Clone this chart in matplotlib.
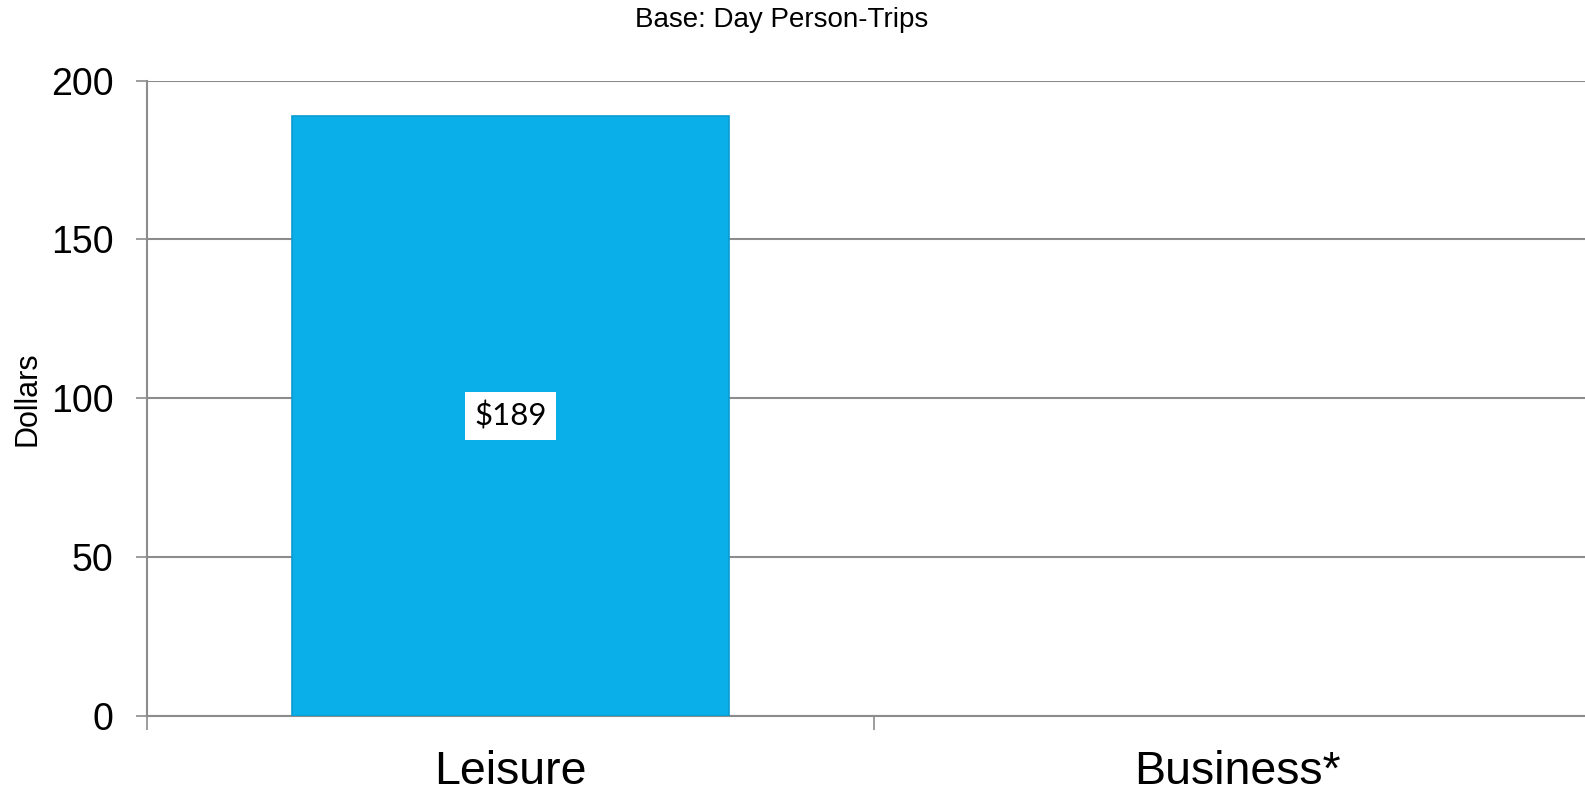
import matplotlib.pyplot as plt
from matplotlib.ticker import FixedLocator

# data
categories = ["Leisure", "Business*"]
spending = [189, None]          # business value not shown
bar_labels = ["$189", ""]
y_ticks = [0, 50, 100, 150, 200]

plt.rcParams['font.family'] = ['Liberation Sans', 'DejaVu Sans']

fig = plt.figure(figsize=(15.85, 7.94), dpi=100)
ax = fig.add_axes([0.0927, 0.0986, 0.9174, 0.7997])

grid_col = '#8c8c8c'

# bars
xs = range(len(categories))
for x, v, lab in zip(xs, spending, bar_labels):
    if v is None:
        continue
    ax.bar(x, v, width=0.6, color='#0aaee9', edgecolor='#0b9bd2', linewidth=1.2, zorder=3)
    ax.text(x, v / 2, lab, ha='center', va='center', fontsize=22.5, family=['Lato', 'DejaVu Sans'],
            color='black', zorder=4,
            bbox=dict(boxstyle='square,pad=0.3', facecolor='white', edgecolor='none'))

ax.set_xlim(-0.5, len(categories) - 0.5)
ax.set_ylim(0, 200)

# y axis
ax.set_yticks(y_ticks)
ax.tick_params(axis='y', labelsize=27, length=8, width=1.2, color=grid_col, pad=16)
ax.yaxis.grid(True, color=grid_col, linewidth=1.5, zorder=0)

# x axis: tick marks between categories, labels at centres
ax.xaxis.set_major_locator(FixedLocator([-0.5, 0.5, 1.5]))
ax.xaxis.set_minor_locator(FixedLocator(list(xs)))
ax.set_xticklabels([], minor=False)
ax.set_xticklabels(categories, minor=True)
ax.tick_params(axis='x', which='major', length=10, width=1.2, color=grid_col)
ax.tick_params(axis='x', which='minor', length=0, labelsize=33.5, pad=25)

for s in ['top', 'right']:
    ax.spines[s].set_visible(False)
for s in ['left', 'bottom']:
    ax.spines[s].set_color(grid_col)
    ax.spines[s].set_linewidth(1.5)

ax.set_ylabel("Dollars", fontsize=22)
ax.yaxis.set_label_coords(-0.072, 0.5)

fig.text(0.493, 0.975, "Base: Day Person-Trips", ha='center', va='center', fontsize=20)

fig.savefig("out.png", dpi=100)
